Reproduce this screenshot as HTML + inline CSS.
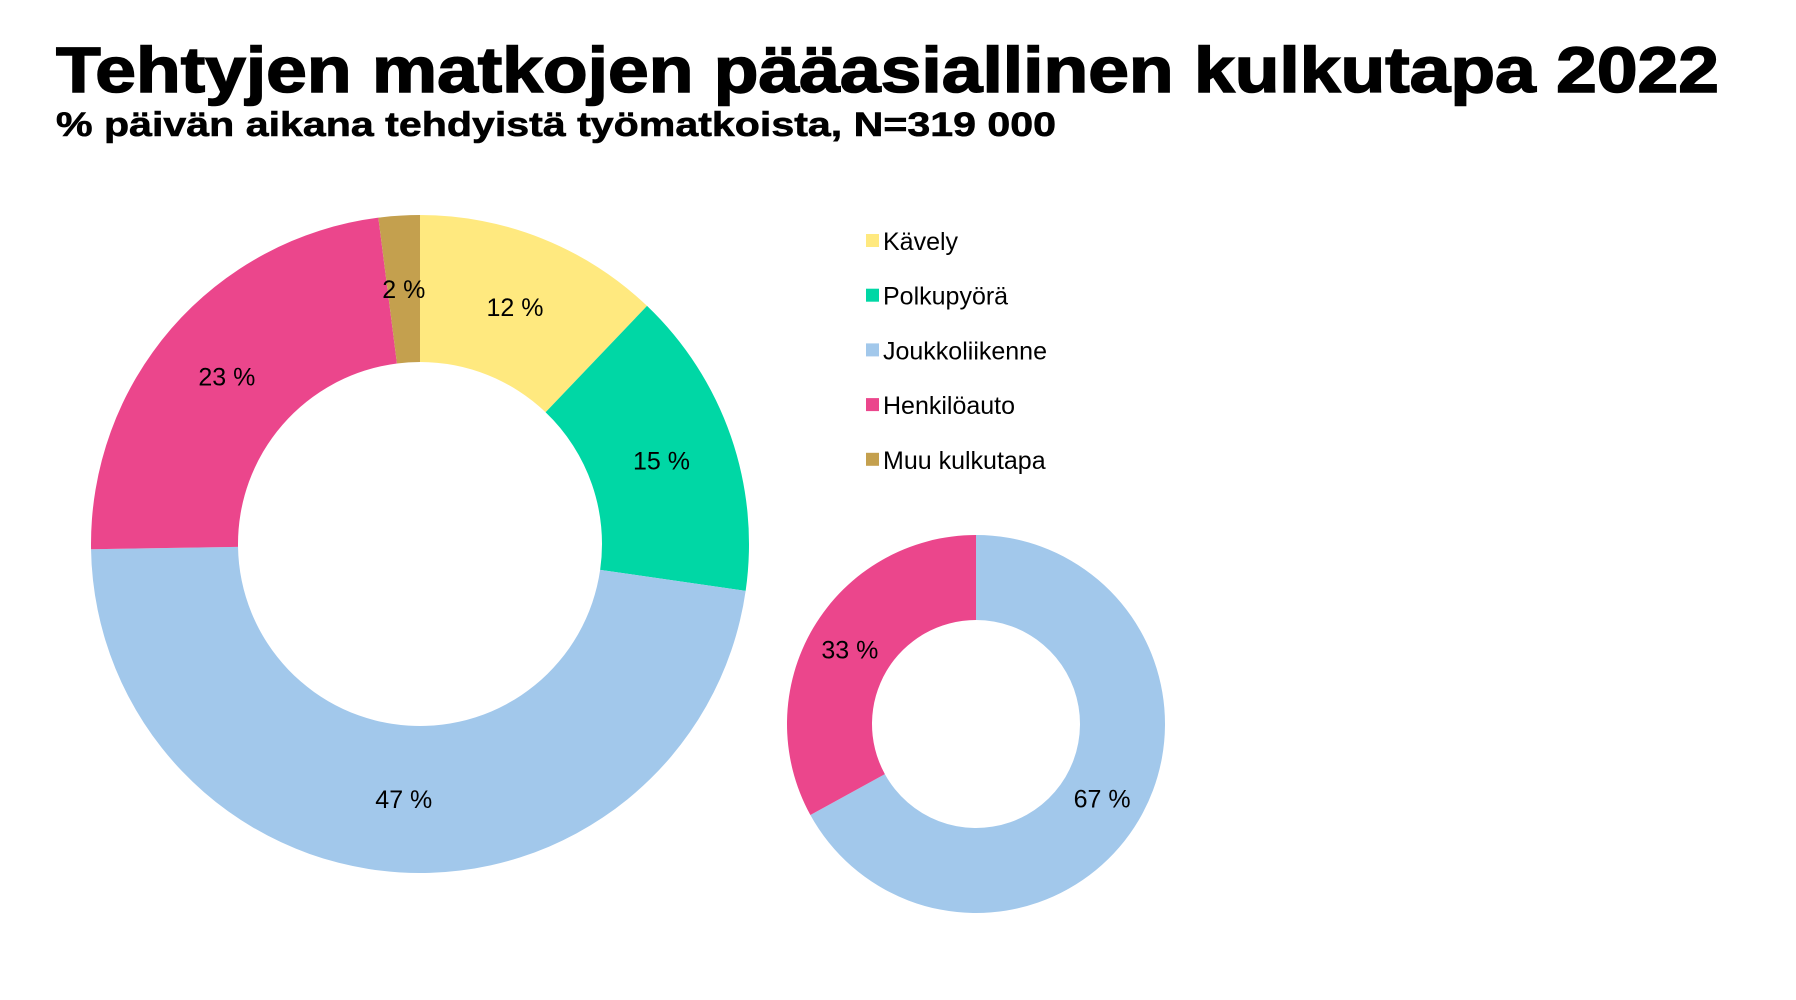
<!DOCTYPE html>
<html><head><meta charset="utf-8"><style>
html,body{margin:0;padding:0;background:#fff;}
svg{display:block;font-family:"Liberation Sans",Arial,sans-serif;}
</style></head><body>
<svg id="chart" width="1796" height="1000" viewBox="0 0 1796 1000">
<text x="56" y="92" font-size="64" font-weight="bold" textLength="1663" lengthAdjust="spacingAndGlyphs" stroke="#000" stroke-width="1.5">Tehtyjen matkojen pääasiallinen kulkutapa 2022</text>
<text x="56" y="136" font-size="34" font-weight="bold" textLength="1000" lengthAdjust="spacingAndGlyphs" stroke="#000" stroke-width="0.6">% päivän aikana tehdyistä työmatkoista, N=319 000</text>
<g id="donuts"></g>
<g id="legend"></g>
</svg>
<script>
const categories = ["Kävely","Polkupyörä","Joukkoliikenne","Henkilöauto","Muu kulkutapa"];
const colors = ["#FFE97F","#00D7A5","#A2C8EB","#EB468C","#C4A04E"];
const bigValues = [12,15,47,23,2];
const smallCategories = ["Joukkoliikenne","Henkilöauto"];
const smallValues = [67,33];

const NS="http://www.w3.org/2000/svg";
const g=document.getElementById('donuts');
function pt(cx,cy,r,a){return [cx+r*Math.sin(a),cy-r*Math.cos(a)];}
function donut(cx,cy,R,r,cats,vals,name){
  const grp=document.createElementNS(NS,'g');
  
  
  g.appendChild(grp);
  const tot=vals.reduce((a,b)=>a+b,0);
  let a0=0;
  vals.forEach((v,i)=>{
    const a1=a0+v/tot*2*Math.PI;
    const large=(a1-a0)>Math.PI?1:0;
    const [x0,y0]=pt(cx,cy,R,a0),[x1,y1]=pt(cx,cy,R,a1),[x2,y2]=pt(cx,cy,r,a1),[x3,y3]=pt(cx,cy,r,a0);
    const p=document.createElementNS(NS,'path');
    p.setAttribute('d',`M${x0},${y0}A${R},${R} 0 ${large} 1 ${x1},${y1}L${x2},${y2}A${r},${r} 0 ${large} 0 ${x3},${y3}Z`);
    p.setAttribute('fill',colors[categories.indexOf(cats[i])]);
    
    
    grp.appendChild(p);
    const am=(a0+a1)/2;
    const [lx,ly]=pt(cx,cy,(R+r)/2,am);
    const t=document.createElementNS(NS,'text');
    t.setAttribute('x',lx);t.setAttribute('y',ly+9);
    t.setAttribute('text-anchor','middle');t.setAttribute('font-size','25');
    t.textContent=v+' %';
    
    
    grp.appendChild(t);
    a0=a1;
  });
}
donut(420,544,329,182,categories,bigValues,'big-donut');
donut(976,724,189,104,smallCategories,smallValues,'small-donut');
const lg=document.getElementById('legend');
categories.forEach((c,i)=>{
  const y=241+i*54.7;
  const s=document.createElementNS(NS,'rect');
  s.setAttribute('x',866);s.setAttribute('y',y-7);s.setAttribute('width',13);s.setAttribute('height',13);
  s.setAttribute('fill',colors[i]);
  
  
  lg.appendChild(s);
  const t=document.createElementNS(NS,'text');
  t.setAttribute('x',883);t.setAttribute('y',y+9);t.setAttribute('font-size','25');
  t.textContent=c;
  
  
  lg.appendChild(t);
});
</script>
</body></html>
